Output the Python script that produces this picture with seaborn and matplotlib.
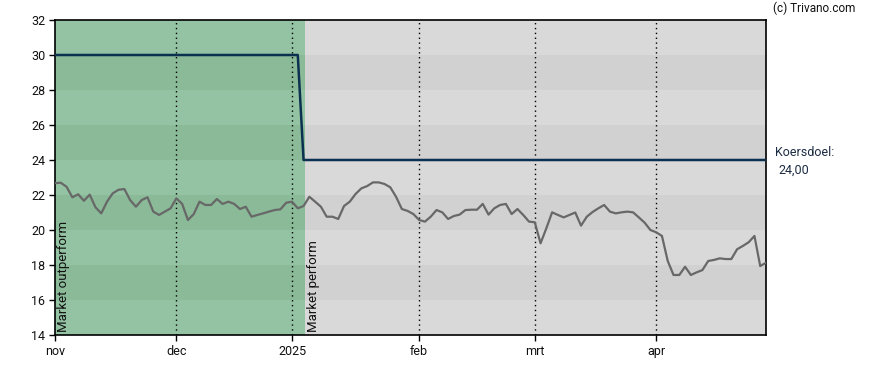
import matplotlib
matplotlib.use("Agg")
import matplotlib.pyplot as plt
import seaborn as sns
import numpy as np
import pandas as pd

# trading-day index of each month start on the x axis
month_pos = [0, 21, 41, 63, 83, 104]
month_labels = ["nov", "dec", "2025", "feb", "mrt", "apr"]

# daily close, one value per trading day (1 Nov 2024 .. end of Apr 2025)
price = [22.68, 22.70, 22.47, 21.87, 22.04, 21.67, 22.02, 21.30, 20.95, 21.62,
         22.10, 22.30, 22.34, 21.71, 21.33, 21.71, 21.87, 21.05, 20.86, 21.05,
         21.24, 21.81, 21.49, 20.57, 20.91, 21.62, 21.43, 21.43, 21.77, 21.49,
         21.62, 21.49, 21.20, 21.33, 20.76, 20.86, 20.95, 21.05, 21.14, 21.18,
         21.56, 21.62, 21.24, 21.37, 21.90, 21.62, 21.33, 20.76, 20.76, 20.63,
         21.37, 21.62, 22.06, 22.38, 22.51, 22.72, 22.72, 22.63, 22.44, 21.90,
         21.20, 21.09, 20.91, 20.57, 20.48, 20.76, 21.14, 21.01, 20.63, 20.80,
         20.88, 21.14, 21.16, 21.16, 21.49, 20.88, 21.24, 21.43, 21.49, 20.91,
         21.20, 20.86, 20.48, 20.44, 19.24, 20.10, 21.01, 20.86, 20.72, 20.86,
         21.00, 20.25, 20.76, 21.03, 21.24, 21.43, 21.05, 20.95, 21.01, 21.05,
         21.01, 20.72, 20.42, 20.00, 19.87, 19.66, 18.23, 17.43, 17.43, 17.90,
         17.43, 17.58, 17.71, 18.23, 18.29, 18.38, 18.34, 18.34, 18.90, 19.09,
         19.30, 19.66, 17.94, 18.13]

# price target (koersdoel) steps
target_pos = [0, 42, 43, 123]
target_vals = [30, 30, 24, 24]

# analyst rating periods
rating_labels = ["Market outperform", "Market perform"]
rating_start = [0, 43.2]
rating_end = [43.2, 123]

df_price = pd.DataFrame({"day": np.arange(len(price)), "close": price})
df_target = pd.DataFrame({"day": target_pos, "target": target_vals})

sns.set_style("white")
plt.rcParams["font.family"] = ["Roboto", "DejaVu Sans"]

fig = plt.figure(figsize=(8.88, 3.70), dpi=100)
ax = fig.add_axes([55 / 888, 35 / 370, 711 / 888, 315 / 370])

ymin, ymax = 14, 32
zone_colors = [("#93c3a2", "#8aba98"), ("#d9d9d9", "#d1d1d1")]
for (x0, x1), (light, dark) in zip(zip(rating_start, rating_end), zone_colors):
    for k, y0 in enumerate(range(ymin, ymax, 2)):
        ax.fill_between([x0, x1], y0, y0 + 2, color=light if k % 2 == 0 else dark,
                        linewidth=0, zorder=0)

for p in month_pos[1:]:
    ax.axvline(p, color="black", linestyle=(0, (1, 2.5)), linewidth=1, zorder=1)

sns.lineplot(data=df_price, x="day", y="close", ax=ax, color="#686868",
             linewidth=1.6, zorder=3)
sns.lineplot(data=df_target, x="day", y="target", ax=ax, color="#0b3150",
             linewidth=1.8, zorder=4)

for lab, x0 in zip(rating_labels, rating_start):
    ax.text(x0 + 0.4, ymin + 0.15, lab, rotation=90, ha="left", va="bottom",
            fontsize=9.5, color="#111111", zorder=5)

ax.set_xlim(0, 123)
ax.set_ylim(ymin, ymax)
ax.set_xticks(month_pos)
ax.set_xticklabels(month_labels)
ax.set_yticks(range(ymin, ymax + 1, 2))
ax.set_xlabel("")
ax.set_ylabel("")
ax.tick_params(axis="both", direction="out", length=4, width=1, color="black",
               labelsize=9, labelcolor="#111111", pad=3, bottom=True, left=True)
for s in ax.spines.values():
    s.set_color("black")
    s.set_linewidth(1.2)

fig.text(775 / 888, 1 - 152 / 370, "Koersdoel:", fontsize=9, color="#1c2c44",
         ha="left", va="center")
fig.text(778 / 888, 1 - 170 / 370, "24,00", fontsize=9, color="#1c2c44",
         ha="left", va="center")
fig.text(773 / 888, 1 - 8 / 370, "(c) Trivano.com", fontsize=8.5, color="#111111",
         ha="left", va="center")

fig.savefig("out.png", dpi=100)
